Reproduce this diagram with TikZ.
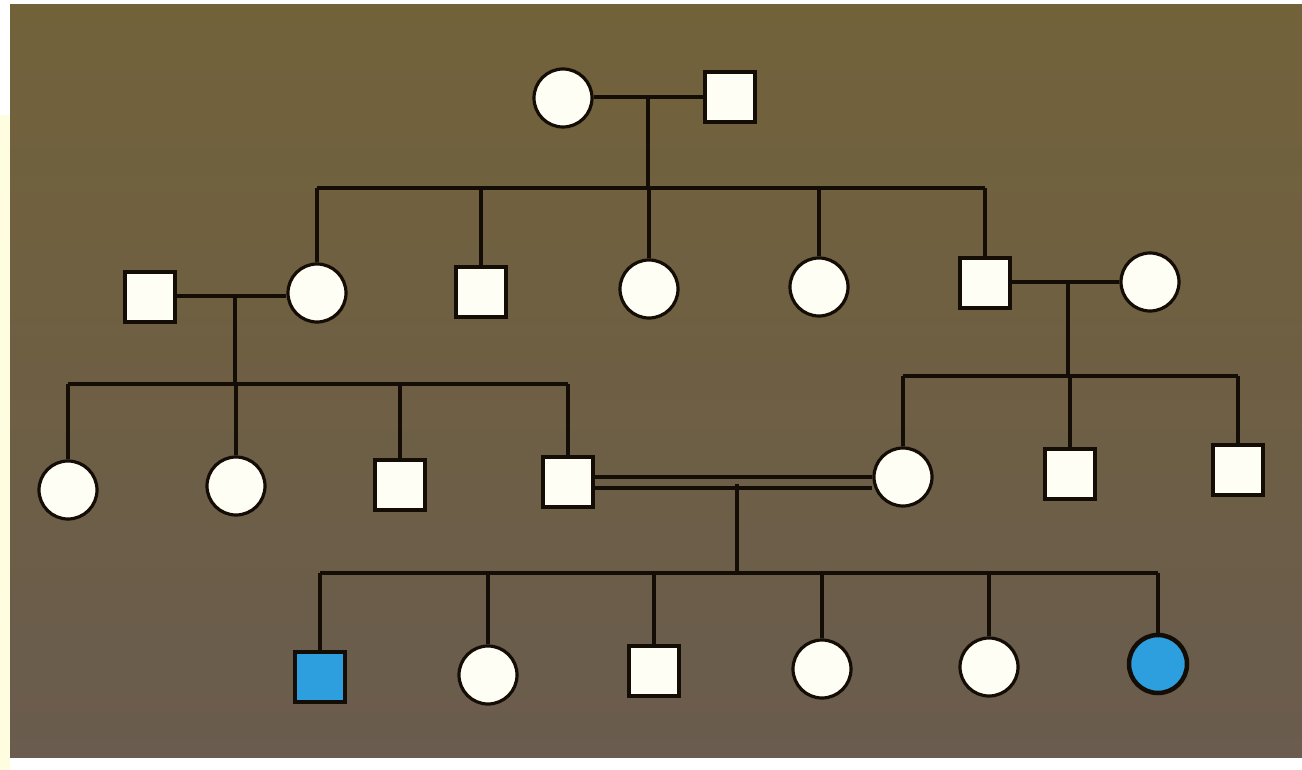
\documentclass[tikz,border=0pt]{standalone}
\begin{document}
\begin{tikzpicture}[x=1pt,y=-1pt,
  ln/.style={line width=4pt,draw=black!90!brown},
  fem/.style={circle,draw=black!90!brown,line width=3.2pt,fill=white!96!yellow,minimum size=58pt,inner sep=0pt},
  mal/.style={rectangle,draw=black!90!brown,line width=3.2pt,fill=white!96!yellow,minimum size=50pt,inner sep=0pt},
  aff/.style={fill=bluefill}]
\definecolor{bluefill}{RGB}{45,158,222}
\definecolor{bgtop}{RGB}{114,98,58}
\definecolor{bgbot}{RGB}{106,92,78}
\useasboundingbox (0,0) rectangle (1302,770);
\fill[white] (0,0) rectangle (1302,770);
\fill[yellow!12!white] (0,115) rectangle (10,770);
\shade[top color=bgtop, bottom color=bgbot] (10,5) rectangle (1302,757);
% generation I
\node[fem] (a1) at (563,98) {};
\node[mal] (a2) at (730,97) {};
% generation II
\node[mal] (b0) at (150,297) {};
\node[fem] (b1) at (317,293) {};
\node[mal] (b2) at (481,292) {};
\node[fem] (b3) at (649,289) {};
\node[fem] (b4) at (819,287) {};
\node[mal] (b5) at (985,283) {};
\node[fem] (b6) at (1150,282) {};
% generation III
\node[fem] (c1) at (68,490) {};
\node[fem] (c2) at (236,486) {};
\node[mal] (c3) at (400,485) {};
\node[mal] (c4) at (568,482) {};
\node[fem] (c5) at (903,477) {};
\node[mal] (c6) at (1070,474) {};
\node[mal] (c7) at (1238,470) {};
% generation IV
\node[mal,aff] (d1) at (320,677) {};
\node[fem] (d2) at (488,675) {};
\node[mal] (d3) at (654,671) {};
\node[fem] (d4) at (822,669) {};
\node[fem] (d5) at (989,667) {};
\node[fem,aff,line width=4.5pt] (d6) at (1158,664) {};
% coordinates
\coordinate (m1) at (648,97);
\coordinate (s1) at (648,188);
\coordinate (m2) at (235,296);
\coordinate (s2) at (235,384);
\coordinate (m3) at (1068,282);
\coordinate (s3) at (1068,376);
\coordinate (m4) at (737,484);
\coordinate (s4) at (737,573);
% gen I
\draw[ln] (a1.east |- m1) -- (a2.west |- m1);
\draw[ln] (m1) -- (s1);
\draw[ln] (b1.north |- s1) -- (b5.north |- s1);
\foreach \n in {b1,b2,b3,b4,b5} \draw[ln] (\n.north |- s1) -- (\n.north);
% gen II left
\draw[ln] (b0.east |- m2) -- (b1.west |- m2);
\draw[ln] (m2) -- (s2);
\draw[ln] (c1.north |- s2) -- (c4.north |- s2);
\foreach \n in {c1,c2,c3,c4} \draw[ln] (\n.north |- s2) -- (\n.north);
% gen II right
\draw[ln] (b5.east |- m3) -- (b6.west |- m3);
\draw[ln] (m3) -- (s3);
\draw[ln] (c5.north |- s3) -- (c7.north |- s3);
\foreach \n in {c5,c6,c7} \draw[ln] (\n.north |- s3) -- (\n.north);
% consanguineous marriage
\draw[ln,line width=3.4pt] ([yshift=-6pt]c4.east) -- ([yshift=-6pt]c4.east -| c5.west);
\draw[ln,line width=3.4pt] ([yshift=5pt]c4.east) -- ([yshift=5pt]c4.east -| c5.west);
\draw[ln] (m4) -- (s4);
\draw[ln] (d1.north |- s4) -- (d6.north |- s4);
\foreach \n in {d1,d2,d3,d4,d5,d6} \draw[ln] (\n.north |- s4) -- (\n.north);
\end{tikzpicture}
\end{document}
